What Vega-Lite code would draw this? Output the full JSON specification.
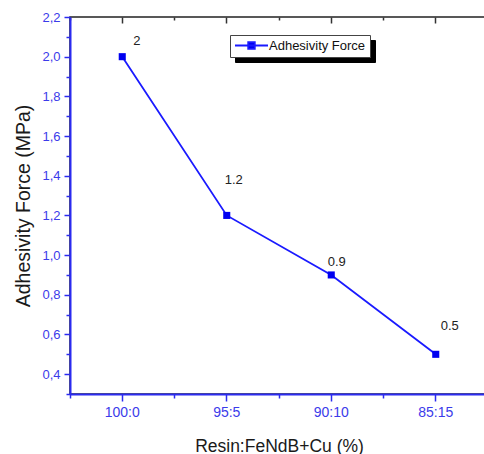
{
  "$schema": "https://vega.github.io/schema/vega-lite/v6.json",
  "autosize": {"type": "none"},
  "padding": {"left": 70, "top": 17, "right": 0, "bottom": 60},
  "width": 418,
  "height": 377,
  "background": "white",
  "config": {
    "font": "Liberation Sans",
    "view": {"stroke": "#222222", "strokeWidth": 1.5},
    "axis": {"grid": false, "titleFontWeight": "normal"},
    "legend": {"titleFontWeight": "normal"}
  },
  "data": {
    "values": [
      {"ratio": "100:0", "force": 2.0},
      {"ratio": "95:5", "force": 1.2},
      {"ratio": "90:10", "force": 0.9},
      {"ratio": "85:15", "force": 0.5}
    ]
  },
  "resolve": {
    "axis": {"x": "independent", "y": "independent"},
    "legend": {"color": "independent", "opacity": "independent"}
  },
  "layer": [
    {
      "mark": {"type": "line", "strokeWidth": 1.8},
      "encoding": {
        "x": {
          "field": "ratio", "type": "ordinal",
          "sort": ["100:0", "95:5", "90:10", "85:15"],
          "scale": {"type": "band", "paddingInner": 0, "paddingOuter": 0},
          "axis": {
            "orient": "bottom", "title": "Resin:FeNdB+Cu (%)",
            "titleFontSize": 17.5, "titleColor": "#1a1a1a", "titlePadding": 18,
            "labelAngle": 0, "labelFontSize": 14, "labelColor": "#3b3bea", "labelPadding": 4,
            "tickSize": 7, "tickColor": "#2b2bf0", "tickWidth": 1.5,
            "domainColor": "#2b2bf0", "domainWidth": 2, "bandPosition": 0.5
          }
        },
        "y": {
          "field": "force", "type": "quantitative",
          "scale": {"domain": [0.3, 2.2], "nice": false, "zero": false},
          "axis": {
            "orient": "left", "title": "Adhesivity Force (MPa)",
            "titleFontSize": 19.5, "titleColor": "#1a1a1a", "titlePadding": 8,
            "values": [0.4, 0.6, 0.8, 1.0, 1.2, 1.4, 1.6, 1.8, 2.0, 2.2],
            "labelExpr": "replace(format(datum.value, '.1f'), '.', ',')",
            "labelFontSize": 13, "labelColor": "#3b3bea", "labelPadding": 4,
            "tickSize": 6, "tickColor": "#2b2bf0", "tickWidth": 1.5,
            "domainColor": "#2b2bf0", "domainWidth": 2
          }
        },
        "color": {
          "datum": "Adhesivity Force",
          "scale": {"range": ["#1a1aff"]},
          "legend": {
            "title": null, "orient": "none", "legendX": 160, "legendY": 18, "zindex": 2,
            "fillColor": "white", "strokeColor": "#444444", "padding": 4,
            "labelFontSize": 13, "labelColor": "#111111", "labelOffset": 22,
            "symbolType": "M-1,0H5M1.4,-0.6H2.6V0.6H1.4Z", "symbolSize": 121,
            "encode": {"symbols": {"update": {"fill": {"value": "#0000f0"}, "stroke": {"value": "#1a1aff"}, "strokeWidth": {"value": 1.8}}}}
          }
        }
      }
    },
    {
      "mark": {"type": "point", "shape": "square", "filled": true, "size": 50, "color": "#0000f0"},
      "encoding": {
        "x": {
          "field": "ratio", "type": "ordinal",
          "sort": ["100:0", "95:5", "90:10", "85:15"],
          "axis": {
            "orient": "bottom", "title": null, "labels": false, "domain": false,
            "tickSize": 4, "tickColor": "#2b2bf0", "tickWidth": 1.5, "bandPosition": 0
          }
        },
        "y": {
          "field": "force", "type": "quantitative",
          "axis": {
            "orient": "left", "title": null, "labels": false, "domain": false,
            "values": [0.3, 0.5, 0.7, 0.9, 1.1, 1.3, 1.5, 1.7, 1.9, 2.1],
            "tickSize": 4, "tickColor": "#2b2bf0", "tickWidth": 1.5
          }
        },
        "opacity": {
          "datum": "Adhesivity Force ", "type": "ordinal",
          "scale": {"range": [1]},
          "legend": {
            "title": null, "orient": "none", "legendX": 165, "legendY": 23, "zindex": 1,
            "fillColor": "black", "strokeColor": "black", "padding": 4,
            "labelFontSize": 13, "labelColor": "black", "labelOffset": 22,
            "labelExpr": "trim(datum.label)",
            "symbolType": "M-1,0H5M1.4,-0.6H2.6V0.6H1.4Z", "symbolSize": 121,
            "symbolFillColor": "black", "symbolStrokeColor": "black"
          }
        }
      }
    },
    {
      "transform": [{"filter": "datum.force == 2"}],
      "mark": {"type": "text", "dx": 14.5, "dy": -16, "fontSize": 13, "color": "#222222"},
      "encoding": {
        "x": {
          "field": "ratio", "type": "ordinal",
          "sort": ["100:0", "95:5", "90:10", "85:15"],
          "axis": {
            "orient": "top", "title": null, "labels": false, "domain": false,
            "tickSize": -6, "tickColor": "#333333", "tickWidth": 1.5, "bandPosition": 0.5
          }
        },
        "y": {"field": "force", "type": "quantitative", "axis": null},
        "text": {"field": "force", "type": "quantitative", "format": "~g"}
      }
    },
    {
      "transform": [{"filter": "datum.force == 1.2"}],
      "mark": {"type": "text", "dx": 7, "dy": -35, "fontSize": 13, "color": "#222222"},
      "encoding": {
        "x": {
          "field": "ratio", "type": "ordinal",
          "sort": ["100:0", "95:5", "90:10", "85:15"],
          "axis": {
            "orient": "top", "title": null, "labels": false, "domain": false,
            "tickSize": -3, "tickColor": "#333333", "tickWidth": 1.5, "bandPosition": 0
          }
        },
        "y": {"field": "force", "type": "quantitative", "axis": null},
        "text": {"field": "force", "type": "quantitative", "format": "~g"}
      }
    },
    {
      "transform": [{"filter": "datum.force == 0.9"}],
      "mark": {"type": "text", "dx": 5.5, "dy": -13, "fontSize": 13, "color": "#222222"},
      "encoding": {
        "x": {"field": "ratio", "type": "ordinal", "sort": ["100:0", "95:5", "90:10", "85:15"], "axis": null},
        "y": {"field": "force", "type": "quantitative", "axis": null},
        "text": {"field": "force", "type": "quantitative", "format": "~g"}
      }
    },
    {
      "transform": [{"filter": "datum.force == 0.5"}],
      "mark": {"type": "text", "dx": 14, "dy": -28, "fontSize": 13, "color": "#222222"},
      "encoding": {
        "x": {"field": "ratio", "type": "ordinal", "sort": ["100:0", "95:5", "90:10", "85:15"], "axis": null},
        "y": {"field": "force", "type": "quantitative", "axis": null},
        "text": {"field": "force", "type": "quantitative", "format": "~g"}
      }
    }
  ]
}
